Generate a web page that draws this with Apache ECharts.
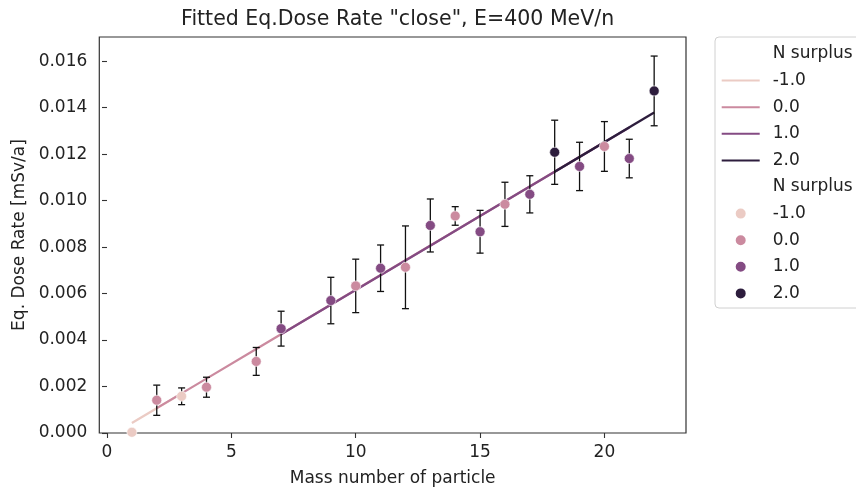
<!DOCTYPE html>
<html>
<head>
<meta charset="utf-8">
<script src="https://cdn.jsdelivr.net/npm/echarts@6/dist/echarts.min.js"></script>
<style>
  html, body { margin: 0; padding: 0; background: #fff; }
  #main { width: 856px; height: 492px; }
</style>
</head>
<body>
<div id="main"></div>
<script>
// data
var mass     = [1, 2, 3, 4, 6, 7, 9, 10, 11, 12, 13, 14, 15, 16, 17, 18, 19, 20, 21, 22];
var nSurplus = [-1, 0, -1, 0, 0, 1, 1, 0, 1, 0, 1, 0, 1, 0, 1, 2, 1, 0, 1, 2];
var dose     = [0.00003, 0.00141, 0.00158, 0.00197, 0.00308, 0.00449, 0.00570, 0.00633, 0.00709, 0.00713,
                0.00893, 0.00934, 0.00866, 0.00984, 0.01027, 0.01208, 0.01147, 0.01233, 0.01181, 0.01472];
var doseErr  = [0.00001, 0.00065, 0.00036, 0.00043, 0.00060, 0.00075, 0.00100, 0.00115, 0.00100, 0.00178,
                0.00114, 0.00040, 0.00092, 0.00095, 0.00080, 0.00138, 0.00104, 0.00107, 0.00083, 0.00150];
var fitDose  = [0.00043, 0.00107, 0.00170, 0.00234, 0.00361, 0.00425, 0.00552, 0.00616, 0.00679, 0.00743,
                0.00806, 0.00870, 0.00934, 0.00997, 0.01061, 0.01124, 0.01188, 0.01252, 0.01315, 0.01379];
var levels   = [-1, 0, 1, 2];
var levelNames = ['-1.0', '0.0', '1.0', '2.0'];
var colors   = ['#ebcbc4', '#cb8a9f', '#844b83', '#2d1d3d'];
var xTicks   = [0, 5, 10, 15, 20];
var yTicks   = [0, 0.002, 0.004, 0.006, 0.008, 0.010, 0.012, 0.014, 0.016];

var FONT = 'DejaVu Sans';
var chart = echarts.init(document.getElementById('main'), null, { width: 856, height: 492 });

function pick(arr, lvl) {
    var out = [];
    for (var i = 0; i < mass.length; i++) {
        if (nSurplus[i] === lvl) out.push([mass[i], arr[i]]);
    }
    return out;
}

var errData = mass.map(function (m, i) {
    return [m, dose[i] - doseErr[i], dose[i] + doseErr[i]];
});

function renderErr(params, api) {
    var lo = api.coord([api.value(0), api.value(1)]);
    var hi = api.coord([api.value(0), api.value(2)]);
    var w = 3.5;
    var st = { stroke: '#111', lineWidth: 1.3 };
    return {
        type: 'group',
        children: [
            { type: 'line', shape: { x1: lo[0], y1: lo[1], x2: hi[0], y2: hi[1] }, style: st },
            { type: 'line', shape: { x1: lo[0] - w, y1: lo[1], x2: lo[0] + w, y2: lo[1] }, style: st },
            { type: 'line', shape: { x1: hi[0] - w, y1: hi[1], x2: hi[0] + w, y2: hi[1] }, style: st }
        ]
    };
}

var series = [
    { name: 'N surplus', type: 'line', data: [], symbol: 'none', lineStyle: { width: 0, opacity: 0 } },
    { name: 'N surplus ', type: 'line', data: [], symbol: 'none', lineStyle: { width: 0, opacity: 0 } }
];
levels.forEach(function (lvl, k) {
    series.push({
        name: levelNames[k],
        type: 'line',
        data: pick(fitDose, lvl),
        symbol: 'none',
        z: 2,
        color: colors[k],
        lineStyle: { width: 2.3, color: colors[k] }
    });
});
series.push({
    type: 'custom',
    renderItem: renderErr,
    data: errData,
    z: 3,
    silent: true
});
levels.forEach(function (lvl, k) {
    series.push({
        name: levelNames[k] + ' ',
        type: 'scatter',
        data: pick(dose, lvl),
        symbolSize: 10,
        z: 4,
        color: colors[k],
        itemStyle: { color: colors[k], borderColor: '#fff', borderWidth: 0.6, opacity: 1 }
    });
});

var hidden = { itemStyle: { opacity: 0 }, lineStyle: { opacity: 0 } };
var legendData = [{ name: 'N surplus', itemStyle: hidden.itemStyle, lineStyle: hidden.lineStyle }]
    .concat(levelNames.map(function (n) { return { name: n, itemStyle: { opacity: 0 } }; }))
    .concat([{ name: 'N surplus ', itemStyle: hidden.itemStyle, lineStyle: hidden.lineStyle }])
    .concat(levelNames.map(function (n) { return { name: n + ' ', icon: 'circle' }; }));

var option = {
    backgroundColor: '#fff',
    animation: false,
    textStyle: { fontFamily: FONT },
    title: {
        text: 'Fitted Eq.Dose Rate "close", E=400 MeV/n',
        left: 392.6,
        top: 4,
        textAlign: 'center',
        textStyle: { fontFamily: FONT, fontSize: 20.5, fontWeight: 'normal', color: '#222' }
    },
    grid: {
        left: 99.3, right: 170, top: 37, bottom: 57,
        show: true, borderColor: '#333', borderWidth: 1.2, backgroundColor: '#fff'
    },
    legend: {
        orient: 'vertical',
        left: 720.7,
        top: 45,
        padding: 0,
        itemWidth: 38,
        itemHeight: 12,
        itemGap: 8.6,
        selectedMode: false,
        z: 10,
        textStyle: { fontFamily: FONT, fontSize: 17, lineHeight: 18, color: '#222', padding: [0, 0, 0, 8] },
        data: legendData
    },
    graphic: [{
        type: 'rect',
        z: 5,
        shape: { x: 715, y: 37, width: 200, height: 271, r: 4 },
        style: { fill: 'rgba(255,255,255,0.8)', stroke: '#d0d0d0', lineWidth: 1 }
    }],
    xAxis: {
        type: 'value',
        min: -0.31,
        max: 23.28,
        name: 'Mass number of particle',
        nameLocation: 'middle',
        nameGap: 37,
        nameTextStyle: { fontFamily: FONT, fontSize: 17, color: '#222' },
        axisLine: { show: false },
        axisTick: { show: true, length: 5, customValues: xTicks, lineStyle: { color: '#333', width: 1.1 } },
        axisLabel: { customValues: xTicks, fontFamily: FONT, fontSize: 17, color: '#222', margin: 11 },
        splitLine: { show: false }
    },
    yAxis: {
        type: 'value',
        min: 0,
        max: 0.01704,
        name: 'Eq. Dose Rate [mSv/a]',
        nameLocation: 'middle',
        nameRotate: 90,
        nameGap: 70,
        nameTextStyle: { fontFamily: FONT, fontSize: 17, color: '#222' },
        axisLine: { show: false },
        axisTick: { show: true, length: 5, customValues: yTicks, lineStyle: { color: '#333', width: 1.1 } },
        axisLabel: {
            customValues: yTicks,
            fontFamily: FONT, fontSize: 17, color: '#222', margin: 12,
            formatter: function (v) { return v.toFixed(3); }
        },
        splitLine: { show: false }
    },
    series: series
};

chart.setOption(option);
</script>
</body>
</html>
